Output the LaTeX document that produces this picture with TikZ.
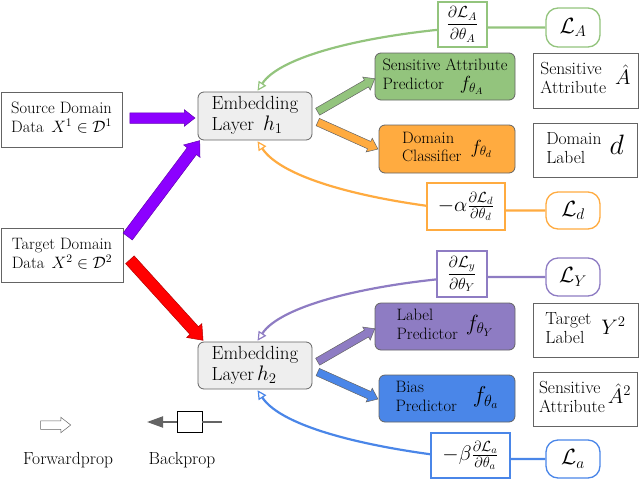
\RequirePackage{fix-cm}
\documentclass[tikz,border=0pt]{standalone}
\usepackage{amsmath}
\usetikzlibrary{shapes.arrows,arrows.meta,calc,backgrounds}
\definecolor{cviolet}{RGB}{140,0,255}
\definecolor{cred}{RGB}{255,0,0}
\definecolor{cgreen}{RGB}{147,196,125}
\definecolor{corange}{RGB}{255,171,64}
\definecolor{cpurple}{RGB}{142,124,195}
\definecolor{cblue}{RGB}{74,134,232}
\definecolor{cedge}{RGB}{100,100,100}
\definecolor{cembed}{RGB}{238,238,238}
\newcommand\mfs[1]{\fontsize{#1}{#1}\selectfont}
\newcommand\blockarr[4]{%
  \path let \p1=($(#2)-(#1)$), \n1={veclen(\x1,\y1)} in
    (#1) -- node[sloped, fwdarrow, #3, minimum height=\n1]{\rule{0pt}{#4}} (#2);}
\begin{document}
\begin{tikzpicture}[x=1pt,y=1pt,
  txt/.style={font=\fontsize{16.5}{18.5}\selectfont},
  bigtxt/.style={font=\fontsize{17.5}{19}\selectfont},
  databox/.style={draw=cedge, line width=0.8pt, fill=white, inner sep=0pt},
  embedbox/.style={font=\fontsize{19}{21}\selectfont, draw=cedge, line width=0.8pt, fill=cembed, rounded corners=6pt, inner sep=0pt},
  predbox/.style={txt, draw=cedge, line width=0.8pt, rounded corners=6pt, inner sep=0pt},
  gradbox/.style={draw=#1, line width=1.3pt, fill=white, inner sep=0pt},
  lossbox/.style={draw=#1, line width=1.3pt, fill=white, rounded corners=12pt, inner sep=0pt, minimum width=54},
  fwdarrow/.style={single arrow, draw=cedge, line width=0.5pt, inner sep=0pt, outer sep=0pt, single arrow head indent=0pt, single arrow tip angle=76},
  bkline/.style={draw=#1, line width=2.2pt, shorten >=1pt, -{Triangle[open, length=9pt, width=9pt, line width=1.2pt]}},
  bpline/.style={draw=cedge, line width=2pt}
]
\useasboundingbox (0,0) rectangle (640,-480);

% inputs
\node[databox, txt, minimum width=121, minimum height=55] (src) at (61.5,-119.5)
  {\begin{tabular}{@{}l@{}r@{}}\multicolumn{2}{@{}l@{}}{Source Domain}\\Data & $X^1\in\mathcal{D}^1$\end{tabular}};
\node[databox, txt, minimum width=122, minimum height=54] (tgt) at (62,-255)
  {\begin{tabular}{@{}l@{}r@{}}\multicolumn{2}{@{}l@{}}{Target Domain}\\Data & $X^2\in\mathcal{D}^2$\end{tabular}};

% embedding layers
\node[embedbox, minimum width=114, minimum height=48] (h1) at (255,-116)
  {\begin{tabular}{@{}l@{}}Embedding\\Layer\hspace{9pt}{\mfs{21}$h_1$}\end{tabular}};
\node[embedbox, minimum width=114, minimum height=47] (h2) at (255,-365.5)
  {\begin{tabular}{@{}l@{}}Embedding\\Layer\hspace{3pt}{\mfs{21}$h_2$}\end{tabular}};

% predictors
\node[predbox, fill=cgreen, minimum width=140, minimum height=47] (pA) at (445,-76.5)
  {\begin{tabular}{@{}l@{}}Sensitive Attribute\\Predictor\hspace{16pt}{\mfs{19}$f_{\theta_A}$}\end{tabular}};
\node[predbox, fill=corange, minimum width=136, minimum height=48] (pD) at (447,-149)
  {\begin{tabular}{@{}l@{}}Domain\\Classifier\end{tabular}\hspace{9pt}{\mfs{19}$f_{\theta_d}$}\hspace{14pt}};
\node[predbox, fill=cpurple, minimum width=140, minimum height=47] (pY) at (445,-326.5)
  {\begin{tabular}{@{}l@{}}Label\\Predictor\end{tabular}\hspace{8pt}{\mfs{22}$f_{\theta_Y}$}};
\node[predbox, fill=cblue, minimum width=136, minimum height=47] (pB) at (447,-398.5)
  {\begin{tabular}{@{}l@{}}Bias\\Predictor\end{tabular}\hspace{16pt}{\mfs{23}$f_{\theta_a}$}\hspace{8pt}};

% outputs
\node[databox, bigtxt, minimum width=105, minimum height=55] (oA) at (585.5,-80.5)
  {\begin{tabular}{@{}l@{}}Sensitive\\Attribute\end{tabular}\hspace{9pt}{\mfs{21}$\hat{A}$}};
\node[databox, bigtxt, minimum width=104, minimum height=54] (oD) at (585,-150)
  {\begin{tabular}{@{}l@{}}Domain\\Label\end{tabular}\hspace{8pt}{\mfs{28}$d$}\hspace{10pt}};
\node[databox, bigtxt, minimum width=105, minimum height=54] (oY) at (585.5,-330)
  {\begin{tabular}{@{}l@{}}Target\\Label\end{tabular}\hspace{10pt}{\mfs{21}$Y^2$}};
\node[databox, bigtxt, minimum width=104, minimum height=54] (oB) at (585,-399)
  {\begin{tabular}{@{}l@{}}Sensitive\\Attribute\end{tabular}\hspace{3pt}{\mfs{21}$\hat{A}^2$}};

% gradient boxes
\node[gradbox=cgreen, minimum width=49, minimum height=45] (gA) at (462.5,-24.5)
  {\mfs{16}$\dfrac{\partial\mathcal{L}_A}{\partial\theta_A}$};
\node[gradbox=corange, minimum width=78, minimum height=47] (gD) at (466,-206.5)
  {\mfs{21}$-\alpha\frac{\partial\mathcal{L}_d}{\partial\theta_d}$};
\node[gradbox=cpurple, minimum width=50, minimum height=46] (gY) at (462,-274)
  {\mfs{16}$\dfrac{\partial\mathcal{L}_y}{\partial\theta_Y}$};
\node[gradbox=cblue, minimum width=79, minimum height=45] (gB) at (470.5,-455.5)
  {\mfs{21}$-\beta\frac{\partial\mathcal{L}_a}{\partial\theta_a}$};

% losses
\node[lossbox=cgreen, minimum height=39] (LA) at (573,-27.5) {\mfs{22}$\mathcal{L}_A$};
\node[lossbox=corange, minimum height=37] (Ld) at (573,-210.5) {\mfs{22}$\mathcal{L}_d$};
\node[lossbox=cpurple, minimum height=38] (LY) at (573,-277) {\mfs{22}$\mathcal{L}_Y$};
\node[lossbox=cblue, minimum height=38] (La) at (573,-459) {\mfs{22}$\mathcal{L}_a$};

% backprop curves
\begin{scope}[on background layer]
\draw[bkline=cgreen] (LA.west) -- (gA.center |- LA.west)
  .. controls +(-100,-8) and +(23,35) .. ($(h1.north)+(2,0)$);
\draw[bkline=corange] (Ld.west) -- (gD.center |- Ld.west)
  .. controls +(-100,10) and +(25,-38) .. ($(h1.south)+(2,0)$);
\draw[bkline=cpurple] (LY.west) -- (gY.center |- LY.west)
  .. controls +(-100,-8) and +(23,35) .. ($(h2.north)+(2,0)$);
\draw[bkline=cblue] (La.west) -- (gB.center |- La.west)
  .. controls +(-100,10) and +(25,-38) .. ($(h2.south)+(2,0)$);
\end{scope}

% forward arrows
\coordinate (a1s) at ($(src.east)+(4,1.5)$);
\coordinate (a1e) at ($(h1.west)+(-6,-2)$);
\coordinate (a2s) at ($(tgt.north east)+(2,-12)$);
\coordinate (a2e) at ($(h1.south west)+(0,-3)$);
\coordinate (a3s) at ($(tgt.east)+(4,-2)$);
\coordinate (a3e) at ($(h2.north west)+(3,4)$);
\coordinate (a4s) at ($(h1.east)+(3,3)$);
\coordinate (a4e) at ($(pA.west)+(-2,-3.5)$);
\coordinate (a5s) at ($(h1.east)+(3,-5)$);
\coordinate (a5e) at ($(pD.west)+(-3,1)$);
\coordinate (a6s) at ($(h2.east)+(3,2.5)$);
\coordinate (a6e) at ($(pY.west)+(-2,-3.5)$);
\coordinate (a7s) at ($(h2.east)+(3,-5.5)$);
\coordinate (a7e) at ($(pB.west)+(-3,0.5)$);
\blockarr{a1s}{a1e}{fill=cviolet, draw=cviolet!70!black, single arrow head extend=3pt}{10pt}
\blockarr{a2s}{a2e}{fill=cviolet, draw=cviolet!70!black, single arrow head extend=4.5pt}{11pt}
\blockarr{a3s}{a3e}{fill=cred, draw=cred!70!black, single arrow head extend=4.5pt}{11pt}
\blockarr{a4s}{a4e}{fill=cgreen, single arrow head extend=3.5pt}{7.5pt}
\blockarr{a5s}{a5e}{fill=corange, single arrow head extend=3.5pt}{7.5pt}
\blockarr{a6s}{a6e}{fill=cpurple, single arrow head extend=3.5pt}{7.5pt}
\blockarr{a7s}{a7e}{fill=cblue, single arrow head extend=3.5pt}{7.5pt}

% legend
\coordinate (fpS) at (38,-425);
\coordinate (fpE) at (68,-425);
\blockarr{fpS}{fpE}{fill=white, single arrow head extend=3.5pt}{8pt}
\node[bigtxt] (fpT) at (68,-460) {Forwardprop};
\node[draw=black, fill=white, line width=0.8pt, minimum width=25, minimum height=21, inner sep=0pt] (bpBox) at (189.5,-422) {};
\coordinate (bpR) at (222,-422);
\coordinate (bpL) at (147,-422);
\draw[bpline] (bpR) -- (bpBox.east);
\draw[bpline, -{Triangle[length=16pt, width=11pt]}] (bpBox.west) -- (bpL);
\node[bigtxt] (bpT) at (182,-460) {Backprop};
\end{tikzpicture}
\end{document}
